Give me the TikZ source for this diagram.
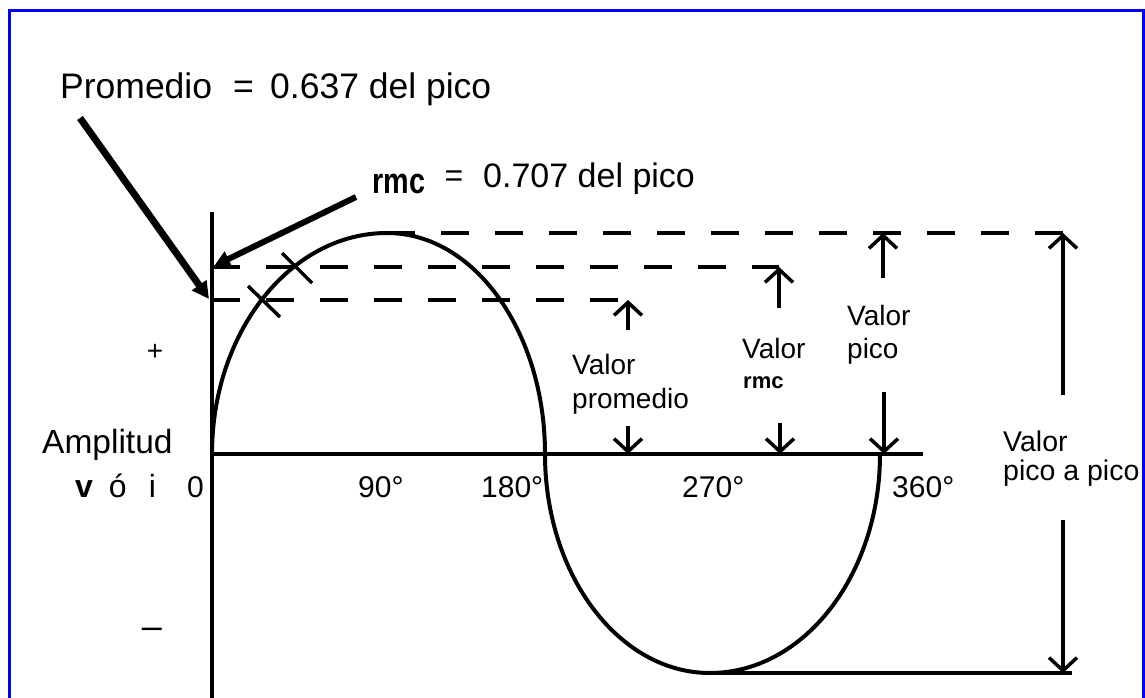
\documentclass[tikz,border=0pt]{standalone}
\usepackage{fontspec}
\setmainfont{Liberation Sans}
\usetikzlibrary{arrows.meta}
\newcommand\myfs[1]{\fontsize{#1}{#1}\selectfont}
\begin{document}
\begin{tikzpicture}[x=1pt,y=-1pt,
  ax/.style={line width=4pt},
  wave/.style={line width=4pt},
  dsh/.style={line width=4pt, dash pattern=on 28pt off 26pt},
  varrow/.style={line width=4pt, -{Straight Barb[length=13pt,width=28pt,line width=3.5pt]}},
  bigarrow/.style={line width=7pt, -{Triangle[length=17pt,width=17pt]}},
  midarrow/.style={line width=6pt, -{Triangle[length=16pt,width=16pt]}},
  xmark/.style={line width=3.5pt},
  lbl/.style={inner sep=0pt, anchor=base west},
  frame/.style={draw={rgb,255:red,0;green,0;blue,255}, line width=3pt}
]
\fill[white] (0,0) rectangle (1145,698);
\useasboundingbox (0,0) rectangle (1145,698);
\draw[frame] (9,698) -- (9,11) -- (1143,11) -- (1143,698);

% named points
\coordinate (O) at (212,454);
\coordinate (ytop) at (212,212);
\coordinate (ybot) at (212,698);
\coordinate (xend) at (923,454);
\coordinate (pkend) at (1075,233);
\coordinate (rmcL) at (212,267);
\coordinate (rmcR) at (779,267);
\coordinate (avgL) at (212,300);
\coordinate (avgR) at (628,300);
\coordinate (botR) at (1072,673);

% axes
\draw[ax] (ytop) -- (ybot);
\draw[ax] (O) -- (xend);

% sine wave
\draw[wave] (O) arc[start angle=180,end angle=270,x radius=175,y radius=221] coordinate (peak)
  arc[start angle=270,end angle=360,x radius=158,y radius=221] coordinate (c180)
  arc[start angle=180,end angle=90,x radius=165,y radius=219] coordinate (trough)
  arc[start angle=90,end angle=0,x radius=170,y radius=219] coordinate (c360);

% dashed levels
\draw[dsh] (peak) -- (pkend);
\draw[dsh] (rmcL) -- (rmcR);
\draw[dsh] (avgL) -- (avgR);
\draw[wave] (trough) -- (botR);

% X marks
\coordinate (x1a) at (282,253); \coordinate (x1b) at (312,283);
\coordinate (x2a) at (248,286); \coordinate (x2b) at (280,317);
\draw[xmark] (x1a) -- (x1b);
\draw[xmark] (x2a) -- (x2b);

% value arrows
\coordinate (pa1) at (628,330);
\coordinate (pa2) at (628,426); \coordinate (pa3) at (628,454);
\coordinate (ra1) at (779,308);
\coordinate (ra2) at (780,423); \coordinate (ra3) at (780,454);
\coordinate (pk1) at (883,278); \coordinate (pk2) at (883,233);
\coordinate (pk3) at (884,392); \coordinate (pk4) at (884,454);
\coordinate (pp1) at (1063,395); \coordinate (pp2) at (1063,233);
\coordinate (pp3) at (1063,520); \coordinate (pp4) at (1063,673);
\draw[varrow] (pa1) -- (avgR);
\draw[varrow] (pa2) -- (pa3);
\draw[varrow] (ra1) -- (rmcR);
\draw[varrow] (ra2) -- (ra3);
\draw[varrow] (pk1) -- (pk2);
\draw[varrow] (pk3) -- (pk4);
\draw[varrow] (pp1) -- (pp2);
\draw[varrow] (pp3) -- (pp4);

% pointer arrows
\coordinate (pr0) at (80,118); \coordinate (pr1) at (209,299);
\coordinate (rm0) at (356,197); \coordinate (rm1) at (214,266);
\draw[bigarrow] (pr0) -- (pr1);
\draw[midarrow] (rm0) -- (rm1);

% texts
\node[lbl] (t1) at (60,99) {\myfs{35.5}Promedio};
\node[lbl] (t2) at (233,99) {\myfs{35.5}=};
\node[lbl] (t3) at (270,99) {\myfs{35.5}0.637 del pico};
\node[lbl] (r1) at (372,193) {\myfs{36}\scalebox{0.8}[1]{\bfseries rmc}};
\node[inner sep=0pt] (r2) at (454,179) {\myfs{32}=};
\node[lbl] (r3) at (483,187) {\myfs{34}0.707 del pico};

\node[inner sep=0pt] (plus) at (155,352) {\myfs{28}+};
\node[inner sep=0pt] (minus) at (152,633) {\myfs{36}–};
\node[lbl] (amp) at (42,453) {\myfs{33.5}Amplitud};
\node[lbl] (voi) at (75,497) {\myfs{32}{\bfseries v}\hspace{16pt}ó\hspace{22pt}i};
\node[lbl] (zero) at (187,497) {\myfs{30}0};
\node[lbl] (d90) at (358,497) {\myfs{30}90°};
\node[lbl] (d180) at (481,497) {\myfs{30}180°};
\node[lbl] (d270) at (682,497) {\myfs{30}270°};
\node[lbl] (d360) at (892,497) {\myfs{30}360°};

\node[lbl] (vp1) at (572,374) {\myfs{28}Valor};
\node[lbl] (vp2) at (572,408) {\myfs{28}promedio};
\node[lbl] (vr1) at (742,358) {\myfs{28}Valor};
\node[lbl] (vr2) at (743,388) {\myfs{22}\bfseries rmc};
\node[lbl] (vk1) at (847,325) {\myfs{28}Valor};
\node[lbl] (vk2) at (847,358) {\myfs{28}pico};
\node[lbl] (vq1) at (1003,451) {\myfs{28.5}Valor};
\node[lbl] (vq2) at (1003,480) {\myfs{28.5}pico a pico};
\end{tikzpicture}
\end{document}
